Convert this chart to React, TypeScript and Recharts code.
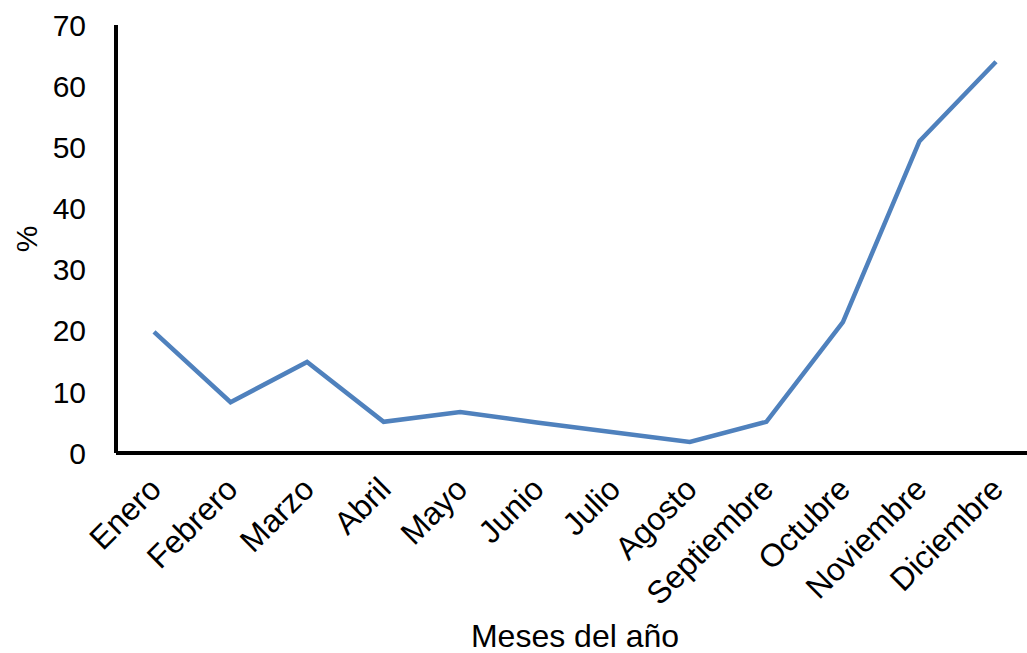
import React from 'react'
import { LineChart, Line, XAxis, YAxis } from 'recharts'

const meses = [
  'Enero', 'Febrero', 'Marzo', 'Abril', 'Mayo', 'Junio',
  'Julio', 'Agosto', 'Septiembre', 'Octubre', 'Noviembre', 'Diciembre'
]
const porcentaje = [19.8, 8.3, 14.9, 5.1, 6.7, 5.0, 3.4, 1.8, 5.1, 21.4, 51.0, 64.0]
const yTicks = [0, 10, 20, 30, 40, 50, 60, 70]

const data = meses.map((mes, i) => ({ mes, valor: porcentaje[i] }))

const font = '"Liberation Sans", Arial, sans-serif'

export default function App() {
  return (
    <div
      style={{
        position: 'absolute',
        left: 0,
        top: 0,
        width: 1027,
        height: 653,
        overflow: 'hidden',
        background: '#fff',
        fontFamily: font
      }}
    >
      <LineChart
        width={1036}
        height={653}
        data={data}
        margin={{ top: 25, right: 2, left: 0, bottom: 0 }}
      >
        <XAxis
          dataKey="mes"
          interval={0}
          height={200}
          padding={{ left: 38, right: 38 }}
          axisLine={{ stroke: '#000', strokeWidth: 4 }}
          tickLine={false}
          tickSize={0}
          tickMargin={22}
          angle={-45}
          textAnchor="end"
          dx={-7}
          tick={{ fill: '#000', fontSize: 32, fontFamily: font }}
          label={{
            value: 'Meses del año',
            position: 'insideBottom',
            offset: 6,
            fill: '#000',
            fontSize: 32,
            fontFamily: font
          }}
        />
        <YAxis
          width={116}
          domain={[0, 70]}
          ticks={yTicks}
          axisLine={{ stroke: '#000', strokeWidth: 4 }}
          tickLine={false}
          tickSize={0}
          tickMargin={30}
          tick={{ fill: '#000', fontSize: 30, fontFamily: font }}
          label={{
            value: '%',
            angle: -90,
            position: 'center',
            dx: -32,
            fill: '#000',
            fontSize: 30,
            fontFamily: font
          }}
        />
        <Line
          type="linear"
          dataKey="valor"
          stroke="#4F81BD"
          strokeWidth={4.5}
          dot={false}
          activeDot={false}
          isAnimationActive={false}
        />
      </LineChart>
    </div>
  )
}
